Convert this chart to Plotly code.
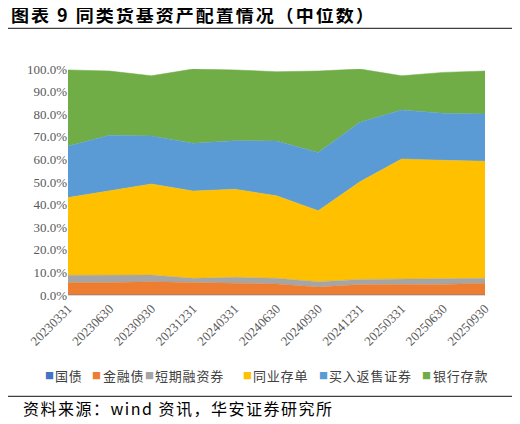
import plotly.graph_objects as go

# 报告期
dates = ["20230331", "20230630", "20230930", "20231231", "20240331", "20240630",
         "20240930", "20241231", "20250331", "20250630", "20250930"]

# 各类资产占比（中位数，%）
guozhai = [0.0, 0.0, 0.0, 0.0, 0.0, 0.0, 0.0, 0.0, 0.0, 0.0, 0.0]
jinrongzhai = [5.5, 5.5, 5.9, 5.7, 5.2, 4.9, 3.5, 4.6, 4.6, 4.7, 5.2]
duanrong = [3.2, 3.1, 2.9, 1.7, 2.6, 2.5, 2.4, 2.3, 2.4, 2.3, 2.2]
cundan = [34.4, 37.6, 40.3, 38.6, 39.0, 36.5, 31.4, 43.2, 53.2, 52.6, 51.8]
fanshou = [22.8, 24.5, 21.3, 21.1, 21.5, 24.2, 25.8, 26.3, 21.7, 20.8, 20.9]
cunkuan = [33.7, 28.4, 26.6, 32.9, 31.3, 30.7, 36.0, 23.6, 15.1, 18.1, 19.0]

names = ["国债", "金融债", "短期融资券", "同业存单", "买入返售证券", "银行存款"]
colors = ["#4472C4", "#ED7D31", "#A5A5A5", "#FFC000", "#5B9BD5", "#70AD47"]
values = [guozhai, jinrongzhai, duanrong, cundan, fanshou, cunkuan]

# 图例色块左端位置（占绘图区宽度的比例）
legend_x = [-0.055, 0.058, 0.185, 0.420, 0.602, 0.851]

cjk = "Noto Sans CJK SC"
serif = "Liberation Serif"

fig = go.Figure()
for name, vals, color in zip(names, values, colors):
    fig.add_trace(go.Scatter(
        x=dates, y=[v / 100 for v in vals], name=name,
        mode="lines", stackgroup="one",
        line=dict(width=0.5, color=color), fillcolor=color,
        hoverinfo="skip",
    ))

# 图例：原图很紧凑，plotly 自带图例放不下一行，所以用文字排
annos = []
for name, color, lx in zip(names, colors, legend_x):
    annos.append(dict(
        text="■", xref="paper", yref="paper", x=lx - 0.006, y=-0.354,
        xanchor="left", yanchor="middle", showarrow=False,
        font=dict(family=cjk, size=9, color=color),
    ))
    annos.append(dict(
        text=f"<span style='letter-spacing:0.8px'>{name}</span>",
        xref="paper", yref="paper", x=lx + 0.02, y=-0.354,
        xanchor="left", yanchor="middle", showarrow=False,
        font=dict(family=cjk, size=13, color="#404040"),
    ))

annos.append(dict(
    text="<b><span style='letter-spacing:2px'>图表 9 同类货基资产配置情况（中位数）</span></b>",
    xref="paper", yref="paper", x=-0.141, y=1.243, xanchor="left", yanchor="middle",
    showarrow=False, font=dict(family=cjk, size=18, color="black"),
))
annos.append(dict(
    text="<span style='letter-spacing:1.5px'>资料来源：wind 资讯，华安证券研究所</span>",
    xref="paper", yref="paper", x=-0.112, y=-0.498, xanchor="left", yanchor="middle",
    showarrow=False, font=dict(family=cjk, size=16, color="black"),
))

# 页面有 8px 的 body 边距，所以画布比窗口小 8px
fig.update_layout(
    width=512, height=416,
    margin=dict(l=60, r=35, t=61, b=129, autoexpand=False),
    paper_bgcolor="white", plot_bgcolor="white",
    showlegend=False,
    xaxis=dict(
        type="category", range=[0, 10], tickangle=-45,
        tickfont=dict(family=serif, size=13, color="#595959"),
        showgrid=False, showline=True, linecolor="#D9D9D9", ticks="",
    ),
    yaxis=dict(
        range=[0, 1.0], dtick=0.1, tickformat=".1%",
        tickfont=dict(family=serif, size=13, color="#595959"),
        showgrid=True, gridcolor="#D9D9D9", zeroline=False, ticks="",
    ),
    annotations=annos,
    shapes=[
        dict(type="line", xref="paper", yref="paper", x0=-0.151, x1=1.072,
             y0=1.180, y1=1.180, line=dict(color="#404040", width=1.2)),
        dict(type="line", xref="paper", yref="paper", x0=-0.151, x1=1.072,
             y0=-0.449, y1=-0.449, line=dict(color="#404040", width=1.2)),
    ],
)

fig.write_html("out.html")
